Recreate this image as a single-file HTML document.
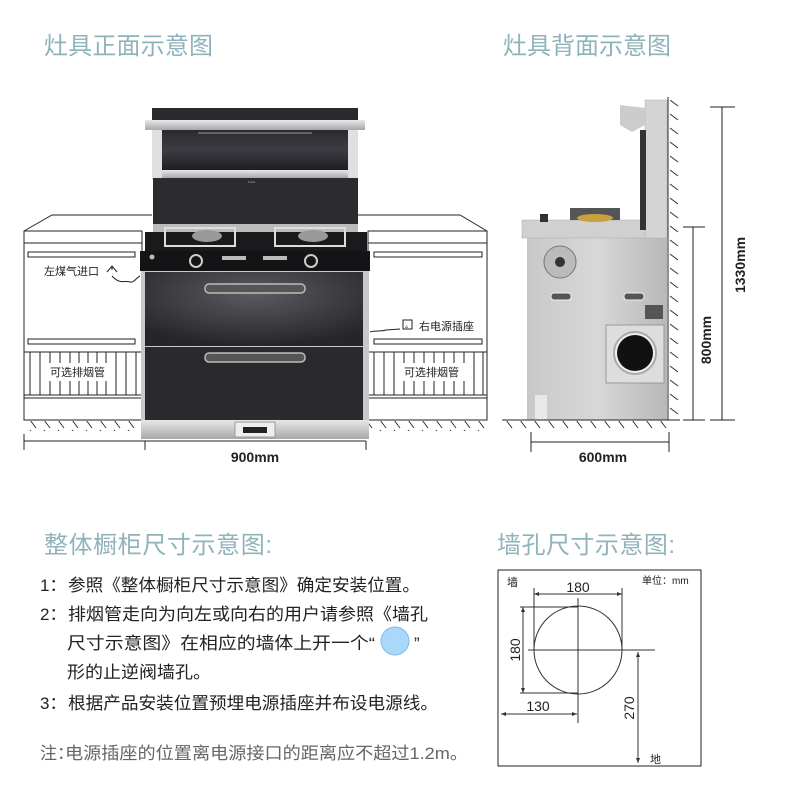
<!DOCTYPE html>
<html><head><meta charset="utf-8"><style>
html,body{margin:0;padding:0;background:#fff;}
svg{display:block;}
text{font-family:"Liberation Sans","Noto Sans CJK SC",sans-serif;}
</style></head><body>
<svg width="790" height="796" viewBox="0 0 790 796" xmlns="http://www.w3.org/2000/svg">
<defs>
<linearGradient id="blk" x1="0" y1="0" x2="0" y2="1"><stop offset="0" stop-color="#2a2a2e"/><stop offset="0.5" stop-color="#3c3c42"/><stop offset="1" stop-color="#1e1e22"/></linearGradient>
<radialGradient id="door" cx="0.5" cy="0.3" r="0.7"><stop offset="0" stop-color="#5a5a60"/><stop offset="1" stop-color="#26262a"/></radialGradient>
<linearGradient id="sil" x1="0" y1="0" x2="0" y2="1"><stop offset="0" stop-color="#e8e8e8"/><stop offset="1" stop-color="#a8a8a8"/></linearGradient>
<linearGradient id="side" x1="0" y1="0" x2="1" y2="0"><stop offset="0" stop-color="#c8c8c8"/><stop offset="0.5" stop-color="#d8d8d8"/><stop offset="1" stop-color="#b8b8b8"/></linearGradient>
<pattern id="hatch" width="14" height="10" patternUnits="userSpaceOnUse"><line x1="2" y1="0" x2="8" y2="8" stroke="#333" stroke-width="1"/></pattern>
<pattern id="vhatch" width="10" height="14" patternUnits="userSpaceOnUse"><line x1="0" y1="2" x2="8" y2="8" stroke="#333" stroke-width="1"/></pattern>
</defs>

<!-- Titles -->
<g fill="#8fb3ba" font-size="24">
<text x="44" y="54" textLength="169">灶具正面示意图</text>
<text x="503" y="54" textLength="168">灶具背面示意图</text>
<text x="44" y="553" textLength="228">整体橱柜尺寸示意图:</text>
<text x="497" y="553" textLength="178">墙孔尺寸示意图:</text>
</g>

<!-- Left cabinet -->
<g fill="none" stroke="#222" stroke-width="1">
<path d="M24,231 L52,215 L152,215"/>
<rect x="24" y="231" width="118" height="189"/>
<line x1="24" y1="243" x2="142" y2="243"/>
<rect x="28" y="252" width="107" height="5"/>
<rect x="28" y="339" width="107" height="5"/>
<line x1="24" y1="352" x2="142" y2="352"/>
<line x1="24" y1="395" x2="142" y2="395"/>
<line x1="24" y1="398" x2="142" y2="398"/>
</g>
<g stroke="#222" stroke-width="1">
<line x1="30" y1="352" x2="30" y2="395"/><line x1="40" y1="352" x2="40" y2="395"/><line x1="50" y1="352" x2="50" y2="395"/><line x1="60" y1="352" x2="60" y2="395"/><line x1="70" y1="352" x2="70" y2="395"/><line x1="79" y1="352" x2="79" y2="395"/><line x1="88" y1="352" x2="88" y2="395"/><line x1="97" y1="352" x2="97" y2="395"/><line x1="106" y1="352" x2="106" y2="395"/><line x1="116" y1="352" x2="116" y2="395"/><line x1="126" y1="352" x2="126" y2="395"/><line x1="136" y1="352" x2="136" y2="395"/>
</g>
<rect x="46" y="363" width="66" height="18" fill="#fff"/>
<text x="50" y="376" font-size="11" fill="#222">可选排烟管</text>
<rect x="24" y="421" width="118" height="10" fill="url(#hatch)"/>

<!-- Right cabinet -->
<g fill="none" stroke="#222" stroke-width="1">
<path d="M358,215 L460,215 L487,231"/>
<rect x="368" y="231" width="119" height="189"/>
<line x1="368" y1="243" x2="487" y2="243"/>
<rect x="374" y="252" width="108" height="5"/>
<rect x="374" y="339" width="108" height="5"/>
<line x1="368" y1="352" x2="487" y2="352"/>
<line x1="368" y1="395" x2="487" y2="395"/>
<line x1="368" y1="398" x2="487" y2="398"/>
</g>
<g stroke="#222" stroke-width="1">
<line x1="374" y1="352" x2="374" y2="395"/><line x1="384" y1="352" x2="384" y2="395"/><line x1="394" y1="352" x2="394" y2="395"/><line x1="404" y1="352" x2="404" y2="395"/><line x1="414" y1="352" x2="414" y2="395"/><line x1="424" y1="352" x2="424" y2="395"/><line x1="434" y1="352" x2="434" y2="395"/><line x1="444" y1="352" x2="444" y2="395"/><line x1="454" y1="352" x2="454" y2="395"/><line x1="464" y1="352" x2="464" y2="395"/><line x1="474" y1="352" x2="474" y2="395"/><line x1="483" y1="352" x2="483" y2="395"/>
</g>
<rect x="400" y="363" width="66" height="18" fill="#fff"/>
<text x="404" y="376" font-size="11" fill="#222">可选排烟管</text>
<rect x="368" y="421" width="119" height="10" fill="url(#hatch)"/>

<!-- Stove front -->
<rect x="152" y="108" width="206" height="13" fill="#2a2a2e"/>
<rect x="145" y="120" width="220" height="10" fill="url(#sil)"/>
<rect x="152" y="130" width="10" height="50" fill="#e0e0e0"/>
<rect x="348" y="130" width="10" height="50" fill="#e0e0e0"/>
<rect x="162" y="130" width="186" height="40" fill="url(#blk)"/>
<line x1="198" y1="133" x2="312" y2="133" stroke="#999" stroke-width="1"/>
<rect x="162" y="170" width="186" height="8" fill="url(#sil)"/>
<rect x="153" y="178" width="205" height="48" fill="#2c2c30"/>
<text x="248" y="183" font-size="3" fill="#aaa">Fotile</text>
<rect x="153" y="224" width="205" height="8" fill="#bbb"/>
<rect x="145" y="232" width="222" height="20" fill="#1a1a1c"/>
<rect x="165" y="228" width="70" height="18" fill="none" stroke="#ddd" stroke-width="2"/>
<rect x="275" y="228" width="70" height="18" fill="none" stroke="#ddd" stroke-width="2"/>
<ellipse cx="207" cy="236" rx="15" ry="6" fill="#999"/>
<ellipse cx="313" cy="236" rx="15" ry="6" fill="#999"/>
<rect x="140" y="251" width="230" height="20" fill="#141416"/>
<circle cx="196" cy="261" r="6" fill="none" stroke="#ccc" stroke-width="2"/>
<circle cx="311" cy="261" r="6" fill="none" stroke="#ccc" stroke-width="2"/>
<rect x="222" y="256" width="24" height="4" fill="#bbb"/>
<rect x="263" y="256" width="24" height="4" fill="#bbb"/>
<circle cx="152" cy="257" r="2.5" fill="#bbb"/>
<rect x="141" y="271" width="228" height="150" fill="#c8c8c8"/>
<rect x="145" y="272" width="218" height="74" fill="url(#door)"/>
<rect x="145" y="347" width="218" height="73" fill="#2a2a2e"/>
<rect x="205" y="284" width="100" height="9" rx="4" fill="#555" stroke="#bbb" stroke-width="1.5"/>
<rect x="205" y="353" width="100" height="9" rx="4" fill="#555" stroke="#bbb" stroke-width="1.5"/>
<rect x="141" y="420" width="228" height="19" fill="url(#sil)"/>
<rect x="235" y="422" width="40" height="15" fill="#eee" stroke="#999"/>
<rect x="243" y="427" width="24" height="6" fill="#222"/>

<!-- labels front -->
<text x="44" y="275" font-size="11" fill="#222">左煤气进口</text>
<path d="M107,272 L112,266 L117,272 M112,266 L112,270" stroke="#222" fill="none"/>
<path d="M112,276 C120,285 125,280 130,282 C134,283 136,278 140,276" stroke="#222" fill="none"/>
<path d="M370,332 C376,330 380,332 386,330 L400,329" stroke="#222" fill="none"/>
<rect x="403" y="320" width="9" height="9" fill="none" stroke="#222"/>
<text x="405" y="328" font-size="6" fill="#222">▵</text>
<text x="419" y="330" font-size="11" fill="#222">右电源插座</text>

<!-- dim 900 -->
<g stroke="#222" stroke-width="1">
<line x1="24" y1="441" x2="366" y2="441"/>
<line x1="24" y1="434" x2="24" y2="450"/>
<line x1="145" y1="441" x2="145" y2="450"/>
<line x1="366" y1="441" x2="366" y2="450"/>
</g>
<text x="255" y="462" font-size="14" font-weight="bold" fill="#222" text-anchor="middle">900mm</text>

<!-- Back view -->
<rect x="527" y="237" width="140" height="183" fill="url(#side)"/>
<rect x="535" y="395" width="12" height="25" fill="#e8e8e8"/>
<rect x="522" y="220" width="125" height="18" fill="#d0d0d0" stroke="#aaa" stroke-width="0.5"/>
<rect x="645" y="100" width="22" height="138" fill="#d4d4d4" stroke="#aaa" stroke-width="0.5"/>
<path d="M620,105 L645,108 L645,125 L632,132 L620,125 Z" fill="#ccc"/>
<rect x="640" y="130" width="6" height="100" fill="#333"/>
<rect x="570" y="208" width="50" height="12" fill="#555"/>
<ellipse cx="595" cy="218" rx="18" ry="4" fill="#c8a040"/>
<rect x="540" y="214" width="8" height="8" fill="#333"/>
<circle cx="560" cy="262" r="16" fill="#bbb" stroke="#777"/>
<circle cx="560" cy="262" r="5" fill="#333"/>
<rect x="551" y="293" width="20" height="7" rx="3" fill="#555" stroke="#eee"/>
<rect x="624" y="293" width="20" height="7" rx="3" fill="#555" stroke="#eee"/>
<rect x="645" y="305" width="18" height="14" fill="#555"/>
<rect x="606" y="325" width="58" height="58" fill="#ddd" stroke="#999"/>
<circle cx="635" cy="353" r="21" fill="#eee" stroke="#aaa" stroke-width="2"/>
<circle cx="635" cy="353" r="18" fill="#111"/>
<g stroke="#222" stroke-width="1">
<line x1="668" y1="97" x2="668" y2="420"/>
<line x1="502" y1="420" x2="680" y2="420"/>
<line x1="683" y1="227" x2="705" y2="227"/>
<line x1="693" y1="227" x2="693" y2="420"/>
<line x1="683" y1="420" x2="705" y2="420"/>
<line x1="710" y1="107" x2="735" y2="107"/>
<line x1="722" y1="107" x2="722" y2="420"/>
<line x1="710" y1="420" x2="735" y2="420"/>
<line x1="531" y1="442" x2="669" y2="442"/>
<line x1="531" y1="432" x2="531" y2="452"/>
<line x1="669" y1="432" x2="669" y2="452"/>
</g>
<rect x="669" y="100" width="10" height="318" fill="url(#vhatch)"/>
<rect x="504" y="421" width="164" height="8" fill="url(#hatch)"/>
<text x="603" y="462" font-size="14" font-weight="bold" fill="#222" text-anchor="middle">600mm</text>
<text transform="translate(711,340) rotate(-90)" font-size="14" font-weight="bold" fill="#222" text-anchor="middle">800mm</text>
<text transform="translate(745,265) rotate(-90)" font-size="14" font-weight="bold" fill="#222" text-anchor="middle">1330mm</text>

<!-- Text list -->
<g font-size="17" fill="#222">
<text x="40" y="591">1：</text><text x="68" y="591" textLength="352" lengthAdjust="spacingAndGlyphs">参照《整体橱柜尺寸示意图》确定安装位置。</text>
<text x="40" y="620">2：</text><text x="68" y="620" textLength="360" lengthAdjust="spacingAndGlyphs">排烟管走向为向左或向右的用户请参照《墙孔</text>
<text x="67" y="649" textLength="308" lengthAdjust="spacingAndGlyphs">尺寸示意图》在相应的墙体上开一个“</text>
<text x="414" y="649">”</text>
<text x="67" y="678" textLength="144" lengthAdjust="spacingAndGlyphs">形的止逆阀墙孔。</text>
<text x="40" y="709">3：</text><text x="68" y="709" textLength="370" lengthAdjust="spacingAndGlyphs">根据产品安装位置预埋电源插座并布设电源线。</text>
</g>
<circle cx="395" cy="641" r="14" fill="#a9d8f8" stroke="#7fbde8" stroke-width="1"/>
<text x="40" y="759" font-size="17" fill="#666">注：</text>
<text x="65" y="759" font-size="17" fill="#666" textLength="403" lengthAdjust="spacingAndGlyphs">电源插座的位置离电源接口的距离应不超过1.2m。</text>

<!-- Wall hole diagram -->
<rect x="498" y="570" width="203" height="196" fill="none" stroke="#222" stroke-width="1"/>
<g stroke="#333" stroke-width="1" fill="none">
<circle cx="578" cy="650" r="44"/>
<line x1="528" y1="650" x2="655" y2="650"/>
<line x1="578" y1="598" x2="578" y2="723"/>
<line x1="534" y1="588" x2="534" y2="650"/>
<line x1="622" y1="588" x2="622" y2="650"/>
<line x1="534" y1="594" x2="622" y2="594"/>
<line x1="520" y1="607" x2="578" y2="607"/>
<line x1="520" y1="693" x2="578" y2="693"/>
<line x1="523" y1="607" x2="523" y2="693"/>
<line x1="501" y1="714" x2="577" y2="714"/>
<line x1="638" y1="652" x2="638" y2="763"/>
</g>
<g fill="#333">
<path d="M534,594 l5,-2 v4z"/><path d="M622,594 l-5,-2 v4z"/>
<path d="M523,607 l-2,5 h4z"/><path d="M523,693 l-2,-5 h4z"/>
<path d="M501,714 l5,-2 v4z"/><path d="M577,714 l-5,-2 v4z"/>
<path d="M638,652 l-2,5 h4z"/><path d="M638,763 l-2,-5 h4z"/>
</g>
<g font-size="14" fill="#222">
<text x="578" y="592" text-anchor="middle">180</text>
<text transform="translate(520,650) rotate(-90)" text-anchor="middle">180</text>
<text x="538" y="711" text-anchor="middle">130</text>
<text transform="translate(634,708) rotate(-90)" text-anchor="middle">270</text>
</g>
<text x="507" y="586" font-size="11" fill="#222">墙</text>
<text x="642" y="584" font-size="10" fill="#222">单位：mm</text>
<text x="650" y="763" font-size="11" fill="#222">地</text>
</svg>
</body></html>
